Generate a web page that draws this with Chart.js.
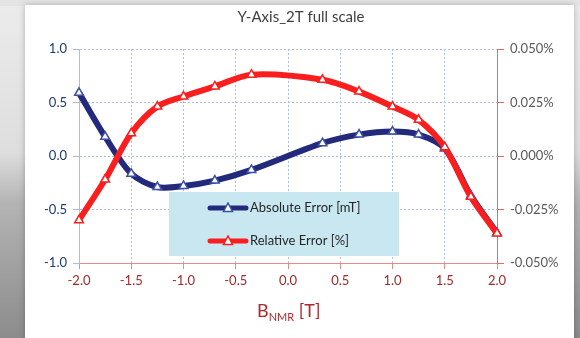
<!DOCTYPE html>
<html>
<head>
<meta charset="utf-8">
<script src="https://cdn.jsdelivr.net/npm/chart.js@4/dist/chart.umd.min.js"></script>
<style>
  body { margin: 0; background: #fff; }
  #wrap { position: relative; width: 580px; height: 338px; }
</style>
</head>
<body>
<div id="wrap"><canvas id="mycanvas" width="580" height="338"></canvas></div>
<script>
// field values, tesla
var bField = [-2.0, -1.75, -1.5, -1.25, -1.0, -0.7, -0.35, 0.33, 0.68, 1.0, 1.25, 1.5, 1.75, 2.0];
// absolute error, mT (left axis)
var absError = [0.59, 0.18, -0.165, -0.29, -0.28, -0.23, -0.13, 0.12, 0.20, 0.228, 0.20, 0.07, -0.37, -0.72];
// relative error, % (right axis)
var relError = [-0.030, -0.011, 0.0106, 0.0231, 0.0278, 0.0325, 0.038, 0.0356, 0.0301, 0.0231, 0.0169, 0.0041, -0.0191, -0.0362];

var chartTitle = 'Y-Axis_2T full scale';
var labelAbs = 'Absolute Error [mT]';
var labelRel = 'Relative Error [%]';

function toPoints(xs, ys) {
	var pts = [];
	for (var i in xs) {
		pts.push({x: xs[i], y: ys[i]});
	}
	return pts;
}

var navy = '#232a7c';
var red = '#fa1e1e';
var font = 'Lato, "Open Sans", sans-serif';

// page background, panel, title, axis title, legend box
var decor = {
	id: 'decor',
	beforeDraw: function(chart) {
		var ctx = chart.ctx;
		ctx.save();
		var g = ctx.createLinearGradient(0, 0, 0, 338);
		g.addColorStop(0, '#ececec');
		g.addColorStop(0.45, '#dedede');
		g.addColorStop(0.6, '#b4b4b4');
		g.addColorStop(1, '#8c8c8c');
		ctx.fillStyle = g;
		ctx.fillRect(0, 0, 580, 338);
		ctx.fillStyle = '#e4e4e4';
		ctx.fillRect(0, 0, 580, 6);
		ctx.shadowColor = 'rgba(0,0,0,0.25)';
		ctx.shadowBlur = 6;
		ctx.fillStyle = '#ffffff';
		ctx.fillRect(25, 5, 549, 340);
		ctx.restore();

		ctx.save();
		ctx.fillStyle = '#404040';
		ctx.font = '15px ' + font;
		ctx.textAlign = 'center';
		ctx.textBaseline = 'middle';
		ctx.fillText(chartTitle, 301, 17);
		ctx.restore();
	},
	afterDraw: function(chart) {
		var ctx = chart.ctx;
		// x axis title with subscript
		ctx.save();
		ctx.fillStyle = '#b0282d';
		ctx.textBaseline = 'alphabetic';
		ctx.textAlign = 'left';
		var x = 257;
		ctx.font = '18px ' + font;
		ctx.fillText('B', x, 317);
		x += ctx.measureText('B').width;
		ctx.font = '11px ' + font;
		ctx.fillText('NMR', x, 321);
		x += ctx.measureText('NMR').width;
		ctx.font = '18px ' + font;
		ctx.fillText(' [T]', x, 317);
		ctx.restore();

		// legend box
		ctx.save();
		ctx.fillStyle = '#c8e7f0';
		ctx.fillRect(169, 192, 230, 64);
		var rows = [
			{label: labelAbs, color: navy, mark: '#3c4ea6', y: 208},
			{label: labelRel, color: red, mark: red, y: 241}
		];
		rows.forEach(function(r) {
			ctx.strokeStyle = r.color;
			ctx.lineWidth = 5;
			ctx.lineCap = 'round';
			ctx.beginPath();
			ctx.moveTo(210, r.y);
			ctx.lineTo(246, r.y);
			ctx.stroke();
			ctx.fillStyle = '#ffffff';
			ctx.strokeStyle = r.mark;
			ctx.lineWidth = 1.5;
			ctx.beginPath();
			ctx.moveTo(228, r.y - 5);
			ctx.lineTo(232.5, r.y + 3.5);
			ctx.lineTo(223.5, r.y + 3.5);
			ctx.closePath();
			ctx.fill();
			ctx.stroke();
			ctx.fillStyle = '#262626';
			ctx.font = '13px ' + font;
			ctx.textBaseline = 'middle';
			ctx.fillText(r.label, 250, r.y);
		});
		ctx.restore();
	}
};

var chartdata = {
	datasets: [
		{
			label: labelAbs,
			data: toPoints(bField, absError),
			yAxisID: 'y',
			borderColor: navy,
			borderWidth: 6,
			tension: 0.3,
			clip: false,
			pointStyle: 'triangle',
			pointRadius: 5,
			pointBackgroundColor: '#ffffff',
			pointBorderColor: '#3c4ea6',
			pointBorderWidth: 1.5,
			order: 2
		},
		{
			label: labelRel,
			data: toPoints(bField, relError),
			yAxisID: 'y1',
			borderColor: red,
			borderWidth: 6,
			tension: 0.3,
			clip: false,
			pointStyle: 'triangle',
			pointRadius: 5,
			pointBackgroundColor: '#ffffff',
			pointBorderColor: red,
			pointBorderWidth: 1.5,
			order: 1
		}
	]
};

var ctx = document.getElementById('mycanvas');

var chart = new Chart(ctx, {
	type: 'line',
	data: chartdata,
	plugins: [decor],
	options: {
		responsive: false,
		animation: false,
		layout: { padding: { top: 49, left: 0, right: 0, bottom: 0 } },
		plugins: {
			legend: { display: false },
			title: { display: false },
			tooltip: { enabled: false }
		},
		scales: {
			x: {
				type: 'linear',
				min: -2,
				max: 2,
				afterFit: function(s) { s.height = 75; },
				ticks: {
					stepSize: 0.5,
					color: '#a02a2c',
					font: { family: font, size: 13 },
					padding: 4,
					callback: function(v) { return v.toFixed(1); }
				},
				grid: { color: '#a9bfda', tickLength: 6, tickColor: '#e68a8a', tickBorderDash: [] },
				border: { color: '#e68a8a', dash: [2, 2] }
			},
			y: {
				position: 'left',
				min: -1,
				max: 1,
				afterFit: function(s) { s.width = 79; },
				ticks: {
					stepSize: 0.5,
					color: '#1f3a6e',
					font: { family: font, size: 13 },
					padding: 6,
					callback: function(v) { return v.toFixed(1); }
				},
				grid: { color: '#a9bfda', tickLength: 6, tickColor: '#a9bfda', tickBorderDash: [] },
				border: { color: '#a9bfda', dash: [2, 2] }
			},
			y1: {
				position: 'right',
				min: -0.05,
				max: 0.05,
				afterFit: function(s) { s.width = 83; },
				ticks: {
					stepSize: 0.025,
					color: '#595959',
					font: { family: font, size: 13 },
					padding: 6,
					callback: function(v) {
						if (Math.abs(v) < 1e-9) v = 0;
						return v.toFixed(3) + '%';
					}
				},
				grid: { drawOnChartArea: false, tickLength: 7, tickColor: '#f06464' },
				border: { color: '#f06464' }
			}
		}
	}
});
</script>
</body>
</html>
